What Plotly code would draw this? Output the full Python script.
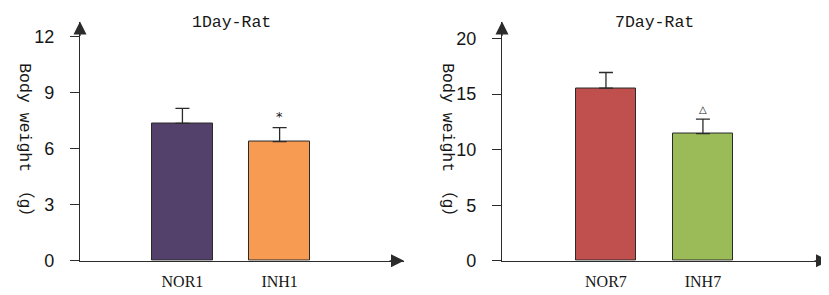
import plotly.graph_objects as go

# ---- data ----
cats_day1 = ["NOR1", "INH1"]
mean_day1 = [7.35, 6.38]
err_day1 = [0.8, 0.75]
mark_day1 = ["", "*"]
colors_day1 = ["#54416B", "#F79A52"]

cats_day7 = ["NOR7", "INH7"]
mean_day7 = [15.55, 11.45]
err_day7 = [1.4, 1.3]
mark_day7 = ["", "△"]
colors_day7 = ["#C0504D", "#9BBB59"]

ticks_day1 = [0, 3, 6, 9, 12]
ticks_day7 = [0, 5, 10, 15, 20]

titles = ["1Day-Rat", "7Day-Rat"]
ytitle = "Body weight （g）"

W, H = 829, 295
AX = "#2b2b2b"
TXT = "#161616"
MONO = "Liberation Mono, Noto Sans CJK SC, monospace"
SERIF = "Liberation Serif, serif"
SANS = "Liberation Sans, Arial, sans-serif"

def px_x(p):
    return p / W

def px_y(p):
    return 1 - p / H

fig = go.Figure()

panels = [
    dict(cats=cats_day1, mean=mean_day1, err=err_day1, mark=mark_day1, col=colors_day1,
         ticks=ticks_day1, xa="x", ya="y", xd=[72, 396], xr=[-1.054, 2.28], yr=[0, 12.8],
         title=titles[0], tx=223.5, ytx=17, msize=13),
    dict(cats=cats_day7, mean=mean_day7, err=err_day7, mark=mark_day7, col=colors_day7,
         ticks=ticks_day7, xa="x2", ya="y2", xd=[494, 821], xr=[-1.072, 2.30], yr=[0, 21.54],
         title=titles[1], tx=646.7, ytx=440, msize=10),
]

annotations = []
for i, p in enumerate(panels):
    xpos = list(range(len(p["cats"])))
    fig.add_trace(go.Bar(
        x=xpos, y=p["mean"], width=0.625,
        marker=dict(color=p["col"], line=dict(color="#2a2a2a", width=1)),
        error_y=dict(type="data", symmetric=False, array=p["err"],
                     arrayminus=[0] * len(p["err"]), color=AX, thickness=1.3, width=7),
        xaxis=p["xa"], yaxis=p["ya"], showlegend=False, hoverinfo="skip",
    ))
    sfx = "" if i == 0 else "2"
    fig.update_layout(**{
        "xaxis" + sfx: dict(domain=[px_x(p["xd"][0]), px_x(p["xd"][1])], range=p["xr"],
                            anchor="y" + sfx, showline=True, linecolor=AX, linewidth=1.3,
                            showgrid=False, zeroline=False, tickmode="array", tickvals=xpos,
                            ticktext=p["cats"], ticks="", ticklabelstandoff=6,
                            tickfont=dict(family=SERIF, size=16, color=TXT)),
        "yaxis" + sfx: dict(domain=[px_y(261.7), px_y(14)], range=p["yr"], anchor="x" + sfx,
                            showline=True, linecolor=AX, linewidth=1.3, showgrid=False,
                            zeroline=False, tickmode="array", tickvals=p["ticks"],
                            ticks="outside", ticklen=9, tickcolor=AX, tickwidth=1.3,
                            ticklabelstandoff=12,
                            tickfont=dict(family=SANS, size=18, color=TXT)),
    })
    # significance markers
    for xi, m, v, e in zip(xpos, p["mark"], p["mean"], p["err"]):
        if m:
            annotations.append(dict(x=xi, y=v + e, xref=p["xa"], yref=p["ya"], text=m,
                                    showarrow=False, yanchor="bottom", yshift=2,
                                    font=dict(family="DejaVu Sans", size=p["msize"], color=TXT)))
    # titles
    annotations.append(dict(x=px_x(p["tx"]), y=px_y(15), xref="paper", yref="paper",
                            text=p["title"], showarrow=False, xanchor="center", yanchor="middle",
                            font=dict(family=MONO, size=16.5, color=TXT)))
    annotations.append(dict(x=px_x(p["ytx"]), y=px_y(141), xref="paper", yref="paper",
                            text=ytitle, showarrow=False, textangle=90, xanchor="center",
                            yanchor="middle", font=dict(family=MONO, size=16.5, color=TXT)))
    # arrowheads at axis ends
    annotations.append(dict(x=p["xr"][1], y=0, xref=p["xa"], yref=p["ya"], ax=-16, ay=0,
                            text="", showarrow=True, arrowhead=2, arrowsize=2,
                            arrowwidth=1.3, arrowcolor=AX))
    annotations.append(dict(x=p["xr"][0], y=p["yr"][1], xref=p["xa"], yref=p["ya"], ax=0, ay=16,
                            text="", showarrow=True, arrowhead=2, arrowsize=2,
                            arrowwidth=1.3, arrowcolor=AX))

fig.update_layout(width=W, height=H, margin=dict(l=0, r=0, t=0, b=0),
                  paper_bgcolor="white", plot_bgcolor="white",
                  annotations=annotations, bargap=0)

fig.write_html("out.html")
